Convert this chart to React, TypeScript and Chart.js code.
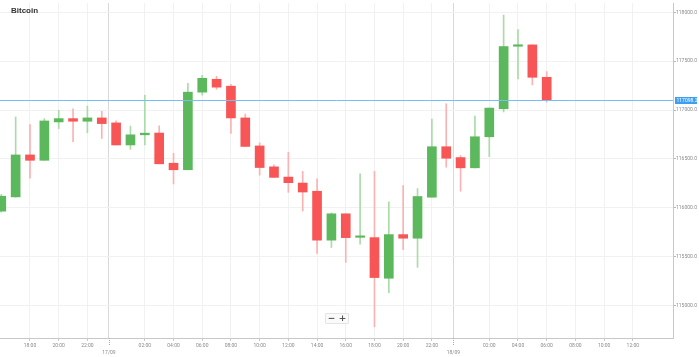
import React, { useEffect, useRef } from "react";
import { Chart, registerables } from "chart.js";

Chart.register(...registerables);

const chartTitle = "Bitcoin";

const candleTimes = [
  "16/09 16:00", "16/09 17:00", "16/09 18:00", "16/09 19:00", "16/09 20:00", "16/09 21:00", "16/09 22:00", "16/09 23:00",
  "17/09 00:00", "17/09 01:00", "17/09 02:00", "17/09 03:00", "17/09 04:00", "17/09 05:00", "17/09 06:00", "17/09 07:00",
  "17/09 08:00", "17/09 09:00", "17/09 10:00", "17/09 11:00", "17/09 12:00", "17/09 13:00", "17/09 14:00", "17/09 15:00",
  "17/09 16:00", "17/09 17:00", "17/09 18:00", "17/09 19:00", "17/09 20:00", "17/09 21:00", "17/09 22:00", "17/09 23:00",
  "18/09 00:00", "18/09 01:00", "18/09 02:00", "18/09 03:00", "18/09 04:00", "18/09 05:00", "18/09 06:00",
];

const opens = [
  115964, 116110, 116540, 116485, 116878, 116912, 116885, 116919,
  116868, 116642, 116746, 116764, 116455, 116388, 117183, 117315,
  117244, 116919, 116632, 116418, 116313, 116252, 116168, 115667,
  115937, 115696, 115693, 115277, 115724, 115687, 116107, 116624,
  116513, 116408, 116726, 117013, 117653, 117667, 117335,
];
const highs = [
  116137, 116929, 116851, 116912, 116997, 117013, 117041, 116987,
  116888, 116835, 117152, 116838, 116556, 117274, 117355, 117345,
  117264, 116959, 116665, 116439, 116567, 116371, 116296, 115947,
  115937, 116347, 116371, 116059, 116225, 116195, 116906, 117064,
  116533, 116939, 117020, 117972, 117825, 117667, 117393,
];
const lows = [
  115954, 116107, 116303, 116485, 116810, 116675, 116767, 116709,
  116642, 116597, 116642, 116449, 116242, 116388, 117152, 117213,
  116759, 116624, 116333, 116310, 116157, 115965, 115531, 115592,
  115440, 115626, 114780, 115129, 115569, 115389, 116107, 116414,
  116168, 116408, 116523, 116980, 117318, 117257, 117081,
];
const closes = [
  116117, 116540, 116485, 116888, 116912, 116885, 116919, 116861,
  116642, 116746, 116763, 116449, 116388, 117183, 117325, 117234,
  116919, 116627, 116411, 116310, 116256, 116160, 115667, 115937,
  115693, 115703, 115284, 115724, 115687, 116114, 116624, 116506,
  116408, 116726, 117020, 117650, 117667, 117335, 117098.2,
];

const timeTicks = [
  "16/09 18:00", "16/09 20:00", "16/09 22:00",
  "17/09 02:00", "17/09 04:00", "17/09 06:00", "17/09 08:00", "17/09 10:00", "17/09 12:00",
  "17/09 14:00", "17/09 16:00", "17/09 18:00", "17/09 20:00", "17/09 22:00",
  "18/09 02:00", "18/09 04:00", "18/09 06:00", "18/09 08:00", "18/09 10:00", "18/09 12:00",
];
const dateTicks = ["17/09", "18/09"];
const yTicks = [115000, 115500, 116000, 116500, 117000, 117500, 118000];

const GREEN = "#5cb85c";
const RED = "#f85656";
const GREEN_WICK = "#a9dca6";
const RED_WICK = "#fbb2b2";

function hourIndex(t: string): number {
  const [d, hm] = t.split(" ");
  const day = parseInt(d.split("/")[0], 10);
  const hour = parseInt(hm.split(":")[0], 10);
  return (day - 16) * 24 + hour - 16;
}

export default function App() {
  const canvasRef = useRef<HTMLCanvasElement | null>(null);

  useEffect(() => {
    const canvas = canvasRef.current;
    if (!canvas) return;

    const xs = candleTimes.map(hourIndex);
    const up = closes.map((c, i) => c >= opens[i]);
    const currentPrice = closes[closes.length - 1];

    const tickLabelMap = new Map<number, string | string[]>();
    timeTicks.forEach((t) => tickLabelMap.set(hourIndex(t), t.split(" ")[1]));
    const datePositions = dateTicks.map((d) => hourIndex(d + " 00:00") - 0.5);
    dateTicks.forEach((d, i) => tickLabelMap.set(datePositions[i], ["", d]));
    const xTickValues = Array.from(tickLabelMap.keys()).sort((a, b) => a - b);
    const isDate = (v: number) => datePositions.some((p) => Math.abs(p - v) < 1e-6);

    const overlay = {
      id: "overlay",
      afterDatasetsDraw(chart: any) {
        const { ctx, chartArea, scales } = chart;
        const y = Math.round(scales.y.getPixelForValue(currentPrice)) + 0.5;
        ctx.save();
        ctx.strokeStyle = "#74bff5";
        ctx.lineWidth = 1;
        ctx.beginPath();
        ctx.moveTo(chartArea.left, y);
        ctx.lineTo(chartArea.right, y);
        ctx.stroke();
        ctx.restore();
      },
      afterDraw(chart: any) {
        const { ctx, chartArea, scales } = chart;
        ctx.save();
        // title
        ctx.fillStyle = "#333";
        ctx.font = "bold 8px 'Liberation Sans', Arial, sans-serif";
        ctx.textBaseline = "middle";
        ctx.textAlign = "left";
        ctx.fillText(chartTitle, 11, 11);
        // current price label
        const y = Math.round(scales.y.getPixelForValue(currentPrice)) + 0.5;
        ctx.fillStyle = "#3b9ef0";
        ctx.fillRect(chartArea.right + 2, y - 3.5, 22, 7);
        ctx.fillStyle = "#ffffff";
        ctx.font = "5px Roboto, sans-serif";
        ctx.fillText(currentPrice.toFixed(1), chartArea.right + 3.5, y + 0.3);
        // dashed date ticks
        ctx.strokeStyle = "#aaa";
        ctx.lineWidth = 1;
        ctx.setLineDash([1, 1]);
        datePositions.forEach((p) => {
          const x = Math.round(scales.x.getPixelForValue(p)) + 0.5;
          ctx.beginPath();
          ctx.moveTo(x, chartArea.bottom);
          ctx.lineTo(x, chartArea.bottom + 7);
          ctx.stroke();
        });
        ctx.restore();
      },
    };

    const chart = new Chart(canvas, {
      type: "bar",
      data: {
        datasets: [
          {
            label: "body",
            data: xs.map((x, i) => ({ x, y: [opens[i], closes[i]] })) as any,
            backgroundColor: up.map((u) => (u ? GREEN : RED)),
            borderWidth: 0,
            barThickness: 9,
            minBarLength: 1.5,
            grouped: false,
            order: 0,
          },
          {
            label: "wick",
            data: xs.map((x, i) => ({ x, y: [lows[i], highs[i]] })) as any,
            backgroundColor: up.map((u) => (u ? GREEN_WICK : RED_WICK)),
            borderWidth: 0,
            barThickness: 1,
            grouped: false,
            order: 1,
          },
        ],
      },
      options: {
        animation: false,
        responsive: false,
        devicePixelRatio: 1,
        layout: { padding: 0 },
        plugins: {
          legend: { display: false },
          tooltip: { enabled: false },
          title: { display: false },
        },
        scales: {
          x: {
            type: "linear",
            min: -0.09,
            max: 46.8,
            offset: false,
            afterBuildTicks: (scale: any) => {
              scale.ticks = xTickValues.map((v) => ({ value: v }));
            },
            afterFit: (scale: any) => {
              scale.height = 19;
            },
            ticks: {
              autoSkip: false,
              maxRotation: 0,
              padding: 1,
              color: "#8a8a8a",
              font: { size: 5, family: "Roboto, sans-serif", lineHeight: 1.4 },
              callback: (v: any) => tickLabelMap.get(Number(v)) ?? "",
            },
            grid: {
              offset: false,
              color: (ctx: any) => (ctx.tick && isDate(ctx.tick.value) ? "#d9d9d9" : "#f1f1f1"),
              tickColor: (ctx: any) => (ctx.tick && isDate(ctx.tick.value) ? "rgba(0,0,0,0)" : "#c8c8c8"),
              tickLength: 3,
              lineWidth: 1,
            },
            border: { display: true, color: "#c8c8c8", width: 1 },
          },
          y: {
            type: "linear",
            position: "right",
            min: 114665,
            max: 118096,
            afterBuildTicks: (scale: any) => {
              scale.ticks = yTicks.map((v) => ({ value: v }));
            },
            afterFit: (scale: any) => {
              scale.width = 26;
            },
            ticks: {
              padding: 0,
              color: "#8a8a8a",
              font: { size: 5, family: "Roboto, sans-serif" },
              callback: (v: any) => Number(v).toFixed(1),
            },
            grid: {
              color: "#f1f1f1",
              tickColor: "#b5b5b5",
              tickLength: 3,
              lineWidth: 1,
            },
            border: { display: true, color: "#c8c8c8", width: 1 },
          },
        },
      },
      plugins: [overlay],
    } as any);

    return () => {
      chart.destroy();
    };
  }, []);

  const btn: React.CSSProperties = {
    width: 11,
    height: 9,
    lineHeight: "9px",
    textAlign: "center",
    fontSize: 9,
    fontWeight: "bold",
    color: "#555",
    fontFamily: "'DejaVu Sans', sans-serif",
  };

  return (
    <div style={{ position: "fixed", left: 0, top: 0, width: 699, height: 357, background: "#fff" }}>
      <canvas ref={canvasRef} width={699} height={357} style={{ display: "block" }} />
      <div
        style={{
          position: "absolute",
          left: 325,
          top: 313,
          display: "flex",
          background: "#fafafa",
          border: "1px solid #e4e4e4",
          borderRadius: 1,
        }}
      >
        <div style={btn}>−</div>
        <div style={btn}>+</div>
      </div>
    </div>
  );
}
